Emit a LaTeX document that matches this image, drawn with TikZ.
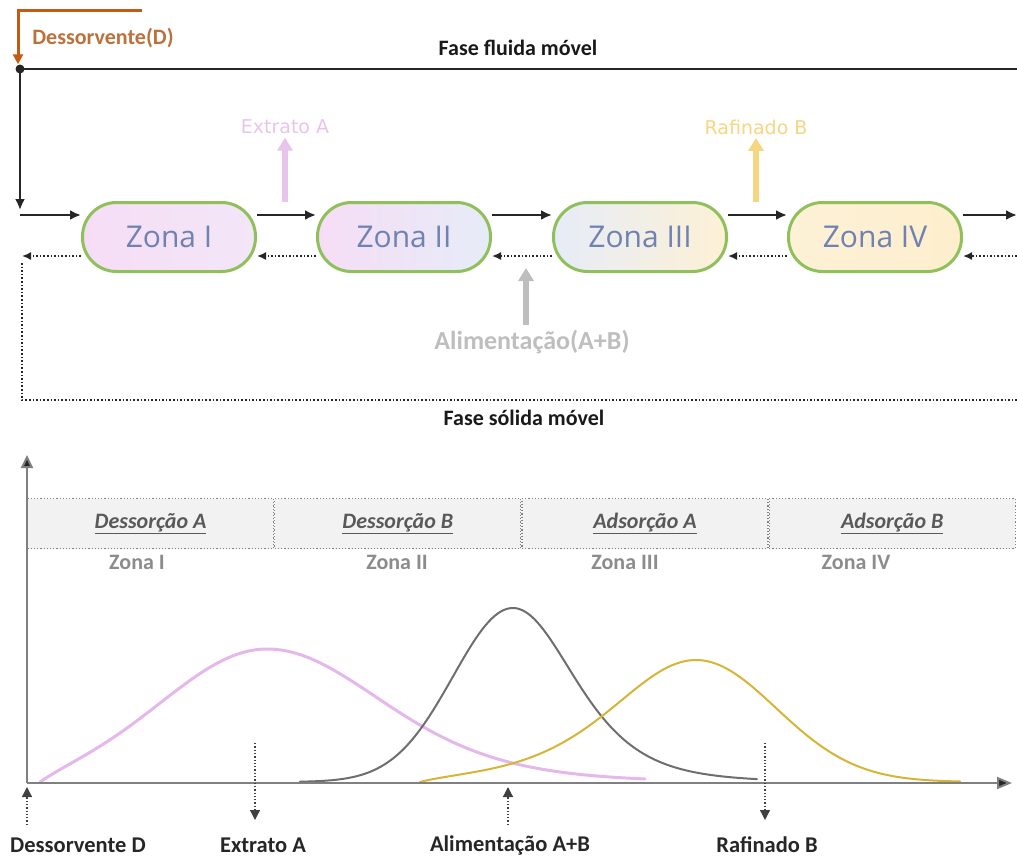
\documentclass[tikz,border=0pt]{standalone}
\usepackage{fontspec}
\setmainfont{Carlito}
\newfontfamily\zfont{Open Sans}
\newfontfamily\vfont{DejaVu Sans}
\usetikzlibrary{arrows.meta}

\definecolor{zgreen}{RGB}{143,192,92}
\definecolor{ztext}{RGB}{112,130,178}
\definecolor{pinkA}{RGB}{246,221,246}
\definecolor{pinkB}{RGB}{243,230,247}
\definecolor{blueC}{RGB}{230,236,247}
\definecolor{yellowD}{RGB}{253,241,214}
\definecolor{yellowE}{RGB}{253,238,205}
\definecolor{dorange}{RGB}{197,90,17}
\definecolor{dtext}{RGB}{190,112,58}
\definecolor{extpink}{RGB}{232,196,236}
\definecolor{rafyel}{RGB}{247,214,130}
\definecolor{alimgray}{RGB}{190,190,190}
\definecolor{axisgray}{RGB}{128,128,128}
\definecolor{bandfill}{RGB}{242,242,242}
\definecolor{bandtext}{RGB}{89,89,89}
\definecolor{zonegray}{RGB}{140,140,140}
\definecolor{curvepink}{RGB}{228,184,234}
\definecolor{curvegray}{RGB}{110,110,110}
\definecolor{curveyel}{RGB}{214,180,52}

\tikzset{
  zone/.style={draw=zgreen, line width=3pt, rounded corners=34pt,
    minimum width=173pt, minimum height=69pt, inner sep=0pt,
    font=\zfont\fontsize{30}{34}\selectfont, text=ztext},
  flow/.style={line width=2.2pt, draw=black!85, -{Latex[length=11pt,width=10pt]}},
  back/.style={line width=1.6pt, dotted, draw=black!85, -{Latex[length=9pt,width=8pt]}},
  sideout/.style={line width=6pt, -{Triangle[length=13pt,width=15pt]}},
  bandcell/.style={draw=axisgray, dotted, line width=1.2pt, fill=bandfill,
    minimum width=246pt, minimum height=50pt, inner sep=0pt,
    font=\fontsize{22}{26}\selectfont\bfseries\itshape, text=bandtext},
  zlabel/.style={font=\fontsize{22}{26}\selectfont\bfseries, text=zonegray},
  blabel/.style={font=\fontsize{22.5}{26}\selectfont\bfseries, text=black!85},
  tag/.style={line width=1.3pt, dotted, draw=black!75, -{Triangle[length=10pt,width=10pt]}},
  phase/.style={font=\fontsize{22}{26}\selectfont\bfseries, text=black!90},
  peak/.style={line join=round, line cap=round},
}

\begin{document}
\begin{tikzpicture}[x=1pt,y=-1pt]
\useasboundingbox (0,0) rectangle (1017,857);

% ---------- moving-bed scheme ----------
\node[zone, left color=pinkA, right color=pinkB] (z1) at (169,237) {Zona I};
\node[zone, left color=pinkA, right color=blueC] (z2) at (404,237) {Zona II};
\node[zone, left color=blueC, right color=yellowD] (z3) at (640,237) {Zona III};
\node[zone, left color=yellowD, right color=yellowE] (z4) at (875,237) {Zona IV};

% desorbent feed
\coordinate (dstart) at (142,10);
\coordinate (dcorner) at (18,10);
\node[circle, fill=black!85, inner sep=0pt, minimum size=9pt] (dot) at (20,69) {};
\draw[line width=3pt, draw=dorange, -{Triangle[length=10pt,width=10pt]}]
  (dstart) -- (dcorner) -- (dot.north -| dcorner);
\node[font=\fontsize{22}{26}\selectfont\bfseries, text=dtext] (dlab) at (103,38) {Dessorvente(D)};

% fluid phase loop
\coordinate (fr) at (1017,69);
\coordinate (fdown) at (20,210);
\draw[line width=2.2pt, draw=black!85] (fr) -- (dot.center);
\draw[flow] (dot.center) -- (fdown);
\node[phase] (fluid) at (518,48) {Fase fluida móvel};

\coordinate (inL) at (20,215);
\coordinate (outR) at (1017,215);
\draw[flow] (inL) -- ([yshift=22pt]z1.west);
\draw[flow] ([yshift=22pt]z1.east) -- ([yshift=22pt]z2.west);
\draw[flow] ([yshift=22pt]z2.east) -- ([yshift=22pt]z3.west);
\draw[flow] ([yshift=22pt]z3.east) -- ([yshift=22pt]z4.west);
\draw[flow] ([yshift=22pt]z4.east) -- (outR);

% solid phase loop
\coordinate (sR) at (1017,256);
\coordinate (sL) at (22,256);
\draw[back] ([yshift=-19pt]z1.west) -- (sL);
\draw[back] ([yshift=-19pt]z2.west) -- ([yshift=-19pt]z1.east);
\draw[back] ([yshift=-19pt]z3.west) -- ([yshift=-19pt]z2.east);
\draw[back] ([yshift=-19pt]z4.west) -- ([yshift=-19pt]z3.east);
\draw[back] (sR) -- ([yshift=-19pt]z4.east);
\coordinate (lt) at (22,263);
\coordinate (lb) at (22,400);
\coordinate (rb) at (1017,400);
\draw[line width=1.6pt, dotted, draw=black!85] (lt) -- (lb) -- (rb);
\node[phase] (solid) at (524,418) {Fase sólida móvel};

% side streams
\node[font=\vfont\fontsize{19}{22}\selectfont, text=extpink] (ext) at (285,127) {Extrato A};
\coordinate (extb) at (285,202);
\draw[sideout, draw=extpink] (extb) -- (ext.south);
\node[font=\vfont\fontsize{19}{22}\selectfont, text=rafyel] (raf) at (756,127) {Rafinado B};
\coordinate (rafb) at (756,202);
\draw[sideout, draw=rafyel] (rafb) -- (raf.south);
\node[font=\fontsize{26}{30}\selectfont\bfseries, text=alimgray] (alim) at (532,342) {Alimentação(A+B)};
\coordinate (alimt) at (526,268);
\draw[sideout, draw=alimgray] ([yshift=2pt]alim.north -| alimt) -- (alimt);

% ---------- concentration profile ----------
\coordinate (orig) at (27,783);
\coordinate (ytop) at (27,455);
\coordinate (xend) at (1012,783);

\node[bandcell, anchor=north west] (b1) at (27,498) {\underline{Dessorção A}};
\node[bandcell, anchor=north west] (b2) at (b1.north east) {\underline{Dessorção B}};
\node[bandcell, anchor=north west] (b3) at (b2.north east) {\underline{Adsorção A}};
\node[bandcell, anchor=north west] (b4) at (b3.north east) {\underline{Adsorção B}};

\node[zlabel] (l1) at (137,562) {Zona I};
\node[zlabel] (l2) at (397,562) {Zona II};
\node[zlabel] (l3) at (625,562) {Zona III};
\node[zlabel] (l4) at (856,562) {Zona IV};

% component A: tailing band centred in zone I
\draw[peak, line width=3pt, draw=curvepink]
  plot[domain=40:267, samples=70] (\x, {782 - (133*exp(-((\x-267)/148.5)^2) - 12.9*exp(-(\x-40)/30))})
  -- plot[domain=267:645, samples=90] (\x, {782 - 133/((1+((\x-267)/356)^2)^5)});
% feed mixture A+B
\draw[peak, line width=2pt, draw=curvegray]
  plot[domain=300:513, samples=70] (\x, {782 - 174*exp(-((\x-513)/84.85)^2)})
  -- plot[domain=513:757, samples=80] (\x, {782 - 174/((1+((\x-513)/143)^2)^3)});
% component B
\draw[peak, line width=2pt, draw=curveyel]
  plot[domain=420:696, samples=80] (\x, {782 - (122/((1+((\x-696)/197)^2)^3) - 4.7*exp(-(\x-420)/25))})
  -- plot[domain=696:960, samples=80] (\x, {782 - 122*exp(-((\x-696)/113.1)^2)});

\draw[line width=2pt, draw=axisgray, -{Triangle[length=13pt,width=12pt,fill=black!85]}] (orig) -- (ytop);
\draw[line width=2pt, draw=axisgray, -{Triangle[length=15pt,width=12pt,fill=black!85]}] (orig) -- (xend);

% inlets and outlets on the profile
\node[blabel] (t1) at (78,845) {Dessorvente D};
\node[blabel] (t2) at (263,845) {Extrato A};
\node[blabel] (t3) at (510,845) {Alimentação A+B};
\node[blabel] (t4) at (767,845) {Rafinado B};
\coordinate (a1) at (27,825);
\coordinate (a1t) at (27,787);
\coordinate (a2) at (255,743);
\coordinate (a2t) at (255,820);
\coordinate (a3) at (508,825);
\coordinate (a3t) at (508,787);
\coordinate (a4) at (765,743);
\coordinate (a4t) at (765,820);
\draw[tag] (a1) -- (a1t);
\draw[tag] (a2) -- (a2t);
\draw[tag] (a3) -- (a3t);
\draw[tag] (a4) -- (a4t);
\end{tikzpicture}
\end{document}
